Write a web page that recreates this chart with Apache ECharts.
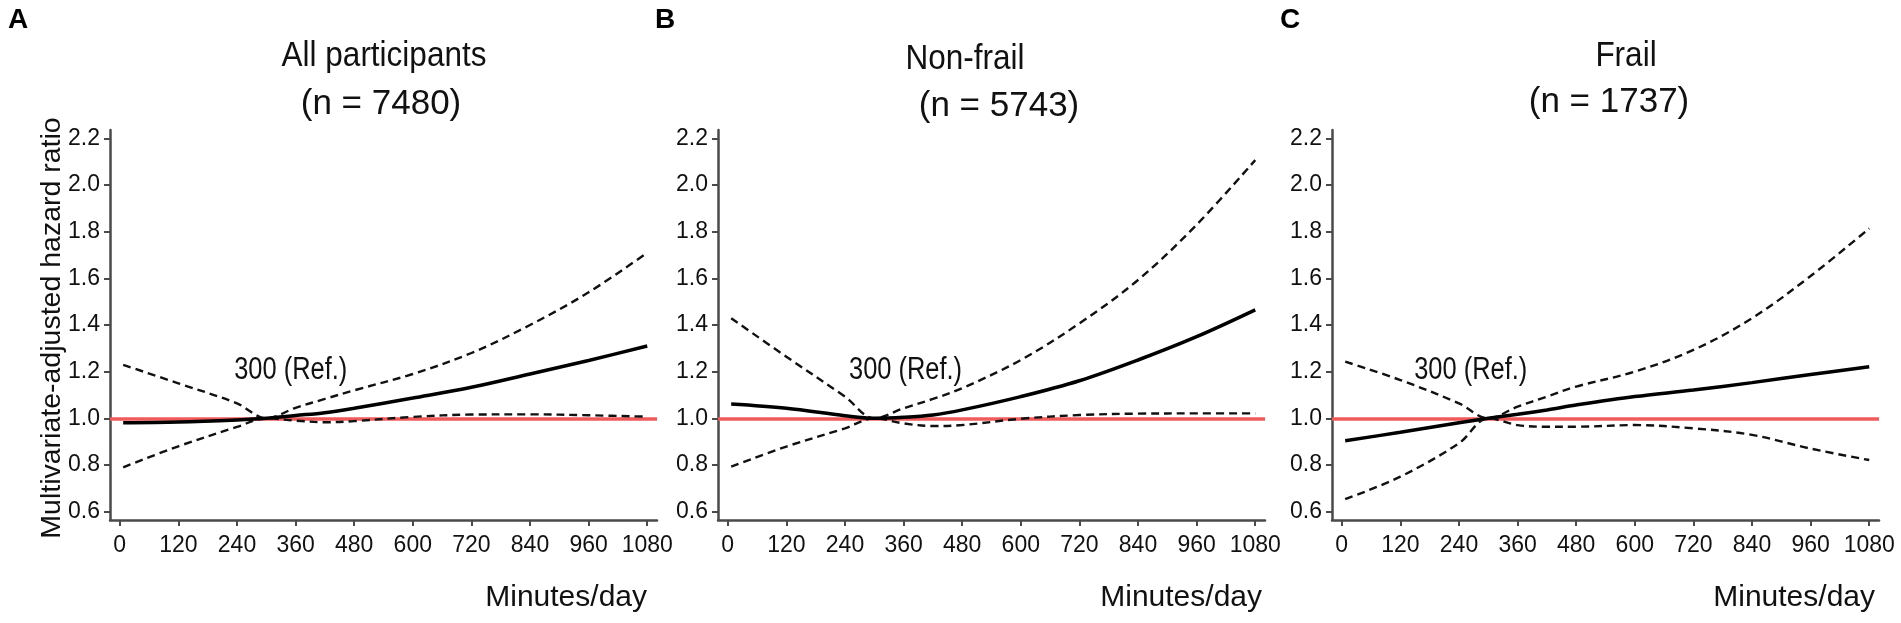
<!DOCTYPE html>
<html>
<head>
<meta charset="utf-8">
<script src="https://cdn.jsdelivr.net/npm/echarts@6/dist/echarts.min.js"></script>
<style>
html,body{margin:0;padding:0;background:#fff;}
#chart{width:1901px;height:623px;}
</style>
</head>
<body>
<div id="chart"></div>
<script>
// ---- data ----
const xTicks = [0, 120, 240, 360, 480, 600, 720, 840, 960, 1080];
const yTicks = [0.6, 0.8, 1.0, 1.2, 1.4, 1.6, 1.8, 2.0, 2.2];
const minutes = [7, 120, 240, 300, 360, 420, 480, 600, 720, 840, 960, 1080];

const panelLetters = ['A', 'B', 'C'];
const panelTitles = ['All participants', 'Non-frail', 'Frail'];
const panelCounts = ['(n = 7480)', '(n = 5743)', '(n = 1737)'];

const hrAll   = [0.981, 0.984, 0.993, 1.000, 1.012, 1.024, 1.043, 1.087, 1.133, 1.190, 1.248, 1.310];
const upAll   = [1.229, 1.150, 1.064, 1.000, 1.045, 1.083, 1.120, 1.190, 1.280, 1.400, 1.540, 1.710];
const loAll   = [0.790, 0.880, 0.963, 1.000, 0.990, 0.983, 0.988, 1.006, 1.016, 1.017, 1.013, 1.007];

const hrNon   = [1.061, 1.043, 1.011, 1.000, 1.004, 1.014, 1.036, 1.093, 1.161, 1.250, 1.350, 1.465];
const upNon   = [1.429, 1.264, 1.093, 1.000, 1.043, 1.083, 1.129, 1.250, 1.407, 1.593, 1.830, 2.107];
const loNon   = [0.793, 0.879, 0.957, 1.000, 0.978, 0.967, 0.971, 0.998, 1.014, 1.020, 1.021, 1.021];

const hrFrail = [0.904, 0.940, 0.981, 1.000, 1.017, 1.036, 1.057, 1.093, 1.121, 1.153, 1.188, 1.221];
const upFrail = [1.243, 1.164, 1.064, 1.000, 1.050, 1.093, 1.136, 1.200, 1.293, 1.429, 1.610, 1.814];
const loFrail = [0.653, 0.750, 0.893, 1.000, 0.971, 0.964, 0.964, 0.971, 0.957, 0.929, 0.870, 0.821];

const refValue = 1.0;
const refLabel = '300 (Ref.)';
const refLabelPos = [[350, 1.207], [364, 1.207], [264, 1.205]];
const xName = 'Minutes/day';
const yName = 'Multivariate-adjusted hazard ratio';

// ---- layout ----
const FONT = '"Liberation Sans", Arial, sans-serif';
const AXIS_COLOR = '#4a4a4a';
const gridLefts = [110, 718, 1332];
const gridWidth = 547;
const gridTop = 130;
const gridHeight = 390;
const titleX1 = [384, 965, 1626];
const titleX2 = [381, 999, 1609];
const titleY1 = [56, 59, 56];
const titleY2 = [104, 106, 102];
const letterX = [8, 655, 1280];
const xNameRight = [647, 1262, 1875];

const panels = [
  {hr: hrAll, up: upAll, lo: loAll},
  {hr: hrNon, up: upNon, lo: loNon},
  {hr: hrFrail, up: upFrail, lo: loFrail}
];

const pairs = arr => minutes.map((m, i) => [m, arr[i]]);

const grids = [], xAxes = [], yAxes = [], series = [], graphics = [];

function txt(x, y, text, font, align, sx) {
  return {type: 'text', x: x, y: y, scaleX: sx || 1, scaleY: 1,
    style: {text: text, font: font, fill: '#111', textAlign: align, textVerticalAlign: 'middle'}};
}

panels.forEach((p, k) => {
  grids.push({left: gridLefts[k], top: gridTop, width: gridWidth, height: gridHeight});
  xAxes.push({
    type: 'value', gridIndex: k, min: -20, max: 1100,
    splitLine: {show: false},
    axisLine: {onZero: false, lineStyle: {color: AXIS_COLOR, width: 2.5}},
    axisTick: {customValues: xTicks, length: 6, lineStyle: {color: AXIS_COLOR, width: 2}},
    axisLabel: {customValues: xTicks, color: '#111', fontSize: 23, fontFamily: FONT, margin: 14,
                formatter: v => String(v)}
  });
  yAxes.push({
    type: 'value', gridIndex: k, min: 0.564, max: 2.236,
    splitLine: {show: false},
    axisLine: {show: true, onZero: false, lineStyle: {color: AXIS_COLOR, width: 2.5}},
    axisTick: {show: true, customValues: yTicks, length: 6, lineStyle: {color: AXIS_COLOR, width: 2}},
    axisLabel: {customValues: yTicks, color: '#111', fontSize: 23, fontFamily: FONT, margin: 10,
                formatter: v => Number(v).toFixed(1)}
  });
  const dashed = {color: '#111', width: 2.4, type: [8, 5]};
  series.push({
    type: 'line', xAxisIndex: k, yAxisIndex: k, data: pairs(p.up), showSymbol: false,
    smooth: 0.35, lineStyle: dashed, z: 3, silent: true
  });
  series.push({
    type: 'line', xAxisIndex: k, yAxisIndex: k, data: pairs(p.lo), showSymbol: false,
    smooth: 0.35, lineStyle: dashed, z: 3, silent: true
  });
  series.push({
    type: 'line', xAxisIndex: k, yAxisIndex: k, data: pairs(p.hr), showSymbol: false,
    smooth: 0.35, lineStyle: {color: '#000', width: 3.5}, z: 4, silent: true,
    markLine: {
      silent: true, symbol: 'none', z: 2,
      lineStyle: {color: '#f05a5a', width: 3.5, type: 'solid'},
      label: {show: false},
      data: [{yAxis: refValue}]
    }
  });

  graphics.push({type: 'text', left: letterX[k], top: 6,
    style: {text: panelLetters[k], font: 'bold 28px ' + FONT, fill: '#000'}});
  graphics.push(txt(titleX1[k], titleY1[k], panelTitles[k], '35px ' + FONT, 'center', 0.9));
  graphics.push(txt(titleX2[k], titleY2[k], panelCounts[k], '35px ' + FONT, 'center'));
  graphics.push(txt(xNameRight[k], 598, xName, '30px ' + FONT, 'right'));
});

graphics.push({type: 'text', x: 52, y: 328, rotation: Math.PI / 2,
  style: {text: yName, font: '28.5px ' + FONT, fill: '#111', textAlign: 'center', textVerticalAlign: 'middle'}});

const chart = echarts.init(document.getElementById('chart'), null, {renderer: 'canvas'});
chart.setOption({
  animation: false,
  backgroundColor: '#fff',
  grid: grids, xAxis: xAxes, yAxis: yAxes, series: series
});

// "300 (Ref.)" labels placed through the panels' own scales
refLabelPos.forEach((pos, k) => {
  const px = chart.convertToPixel({gridIndex: k}, pos);
  graphics.push(txt(px[0], px[1], refLabel, '31px ' + FONT, 'center', 0.82));
});
chart.setOption({graphic: graphics});
</script>
</body>
</html>
